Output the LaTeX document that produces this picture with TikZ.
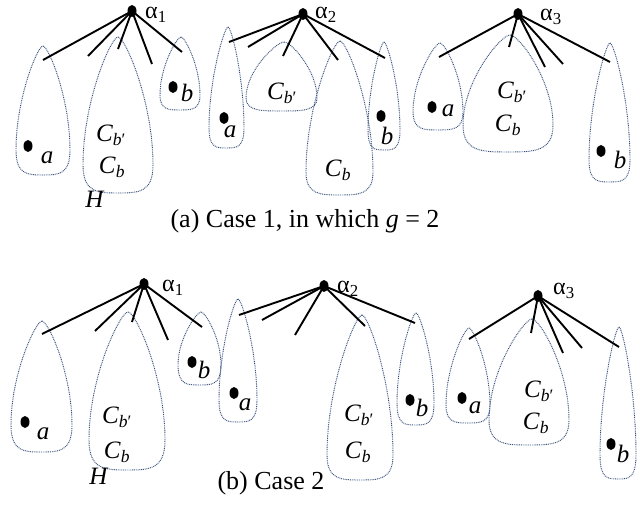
\documentclass[tikz,border=0pt]{standalone}
\usepackage{fontspec}
\setmainfont{Liberation Serif}
\usetikzlibrary{shapes.geometric}
\definecolor{dropc}{RGB}{55,80,125}
\tikzset{
  vdot/.style={ellipse,fill=black,inner sep=0pt,minimum width=9pt,minimum height=12pt},
  branch/.style={line width=1.9pt,black},
  dropline/.style={draw=dropc,line width=0.95pt,dash pattern=on 0.9pt off 0.9pt},
  lab/.style={inner sep=0pt,font=\fontsize{25}{29}\selectfont},
  alab/.style={inner sep=0pt,anchor=base west,font=\fontsize{24}{28}\selectfont},
  captext/.style={inner sep=0pt,font=\fontsize{26}{30}\selectfont}
}
\newcommand\drop[6]{%
  \pgfmathsetmacro\dw{#4-#3}%
  \pgfmathsetmacro\dc{(#3+#4)/2}%
  \pgfmathsetmacro\dm{#2+0.5*(#5-#2)}%
  \pgfmathsetmacro\dq{0.28*\dw}%
  \draw[dropline] (#1,#2) .. controls (#1+0.1*\dw,#2) and (#4,\dm) .. (#4,#5)
    .. controls (#4,#6) and (\dc+\dq,#6) .. (\dc,#6)
    .. controls (\dc-\dq,#6) and (#3,#6) .. (#3,#5)
    .. controls (#3,\dm) and (#1-0.1*\dw,#2) .. cycle;}
\newcommand\Cbp{\textit{C}\textsubscript{\textit{b}′}}
\newcommand\Cb{\textit{C}\textsubscript{\textit{b}}}
\newcommand\branches[2]{%
  \foreach \xx/\yy [count=\i] in {#2}
    {\coordinate (#1e\i) at (\xx,\yy); \draw[branch] (#1.center) -- (#1e\i);}}
\begin{document}
\begin{tikzpicture}[x=1pt,y=-1pt]
\useasboundingbox (0,0) rectangle (642,510);
% ---------------- panel (a) ----------------
\drop{43}{46}{16}{70}{150}{175}
\drop{118}{37}{83}{153}{165}{193}
\drop{181}{37}{160}{200}{95}{110}
\drop{228}{27}{209}{244}{128}{148}
\drop{284}{42}{246}{317}{98}{111}
\drop{340}{41}{306}{373}{172}{195}
\drop{384}{42}{368}{400}{130}{150}
\drop{440}{43}{413}{463}{112}{130}
\drop{510}{35}{463}{553}{125}{152}
\drop{610}{43}{589}{630}{160}{182}
\node[vdot] (ra1) at (132,11) {};
\node[vdot] (ra2) at (303,14) {};
\node[vdot] (ra3) at (518,14) {};
\node[alab] (la1) at (145,19) {α\textsubscript{1}};
\node[alab] (la2) at (315,19) {α\textsubscript{2}};
\node[alab] (la3) at (540,21) {α\textsubscript{3}};
\branches{ra1}{43/60,88/56,118/49,152/64,182/52}
\branches{ra2}{229/42,248/47,283/56,338/60,385/58}
\branches{ra3}{439/57,509/47,545/67,563/64,610/62}
\node[vdot] (da1a) at (28,146) {};
\node[vdot] (da1b) at (173,87) {};
\node[vdot] (da2a) at (224,118) {};
\node[vdot] (da2b) at (381,116) {};
\node[vdot] (da3a) at (432,107) {};
\node[vdot] (da3b) at (601,151) {};
\node[lab] (ta1a) at (47,158) {\textit{a}};
\node[lab] (ta1b) at (187,93) {\textit{b}};
\node[lab] (ta1c) at (111,135) {\Cbp};
\node[lab] (ta1d) at (112,167) {\Cb};
\node[lab] (ta1h) at (95,199) {\textit{H}};
\node[lab] (ta2a) at (230,132) {\textit{a}};
\node[lab] (ta2c) at (282,93) {\Cbp};
\node[lab] (ta2d) at (338,170) {\Cb};
\node[lab] (ta2b) at (387,136) {\textit{b}};
\node[lab] (ta3a) at (448,111) {\textit{a}};
\node[lab] (ta3c) at (512,92) {\Cbp};
\node[lab] (ta3d) at (508,125) {\Cb};
\node[lab] (ta3b) at (620,160) {\textit{b}};
\node[captext] (capa) at (305,221) {(a) Case 1, in which \textit{g} = 2};
% ---------------- panel (b) ----------------
\drop{42}{321}{11}{72}{425}{452}
\drop{128}{312}{89}{165}{440}{470}
\drop{201}{312}{178}{221}{365}{385}
\drop{238}{299}{219}{257}{400}{422}
\drop{362}{315}{327}{393}{455}{480}
\drop{416}{313}{397}{434}{403}{425}
\drop{469}{328}{446}{490}{405}{423}
\drop{532}{319}{489}{569}{420}{445}
\drop{619}{327}{600}{636}{455}{479}
\node[vdot] (rb1) at (144,284) {};
\node[vdot] (rb2) at (324,286) {};
\node[vdot] (rb3) at (538,296) {};
\node[alab] (lb1) at (162,292) {α\textsubscript{1}};
\node[alab] (lb2) at (337,293) {α\textsubscript{2}};
\node[alab] (lb3) at (553,295) {α\textsubscript{3}};
\branches{rb1}{42/334,95/331,132/322,168/340,202/327}
\branches{rb2}{239/315,262/320,295/335,365/326,415/323}
\branches{rb3}{469/339,531/333,563/353,582/348,619/347}
\node[vdot] (db1a) at (25,422) {};
\node[vdot] (db1b) at (192,362) {};
\node[vdot] (db2a) at (234,393) {};
\node[vdot] (db2b) at (410,400) {};
\node[vdot] (db3a) at (462,398) {};
\node[vdot] (db3b) at (611,444) {};
\node[lab] (tb1a) at (43,434) {\textit{a}};
\node[lab] (tb1c) at (117,417) {\Cbp};
\node[lab] (tb1d) at (117,452) {\Cb};
\node[lab] (tb1h) at (99,476) {\textit{H}};
\node[lab] (tb1b) at (204,370) {\textit{b}};
\node[lab] (tb2a) at (245,405) {\textit{a}};
\node[lab] (tb2c) at (359,415) {\Cbp};
\node[lab] (tb2d) at (358,452) {\Cb};
\node[lab] (tb2b) at (422,408) {\textit{b}};
\node[lab] (tb3a) at (475,408) {\textit{a}};
\node[lab] (tb3c) at (539,391) {\Cbp};
\node[lab] (tb3d) at (536,423) {\Cb};
\node[lab] (tb3b) at (623,454) {\textit{b}};
\node[captext] (capb) at (271,483) {(b) Case 2};
\end{tikzpicture}
\end{document}
